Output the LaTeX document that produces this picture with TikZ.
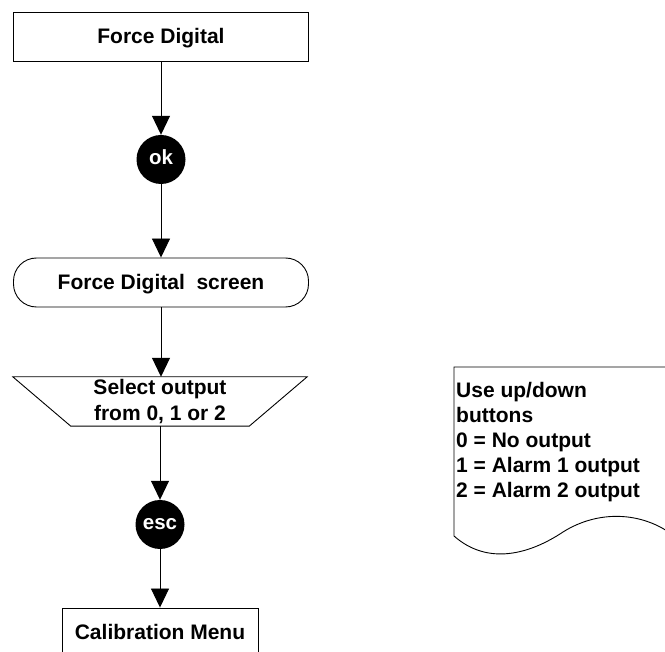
\documentclass[tikz,border=0pt]{standalone}
\usepackage{fontspec}
\setmainfont{Liberation Sans}
\usetikzlibrary{arrows.meta}
\begin{document}
\begin{tikzpicture}[x=1pt,y=-1pt,
  thinline/.style={line width=0.9pt},
  flow/.style={thinline, -{Triangle[width=18pt,length=19pt]}},
  boxshape/.style={draw, thinline, minimum height=49pt, inner sep=0pt, text height=15pt, text depth=0pt, font=\bfseries\fontsize{21}{24}\selectfont},
  keycirc/.style={circle, fill=black, minimum size=49pt, inner sep=0pt, text=white, text height=10.8pt, text depth=0pt, font=\bfseries\fontsize{20.5}{22}\selectfont},
  plaintext/.style={inner sep=0pt, font=\bfseries\fontsize{21}{25}\selectfont},
]
\useasboundingbox (0,0) rectangle (665,652);
\clip (0,0) rectangle (665,652);
% top box
\node[boxshape, minimum width=295pt] (fd) at (161,36.5) {Force Digital};
\node[keycirc] (ok) at (161,159.5) {ok};
\node[boxshape, minimum width=295pt, rounded corners=23pt] (scr) at (161,282.5) {Force Digital\ \ screen};
% trapezoid
\node[inner sep=0pt, minimum width=178pt, minimum height=49pt] (sel) at (160,401.5) {};
\draw[thinline] ([xshift=-58pt]sel.north west) -- ([xshift=58pt]sel.north east) -- (sel.south east) -- (sel.south west) -- cycle;
\node[plaintext, align=center, anchor=north, font=\bfseries\fontsize{21}{26}\selectfont] (seltext) at (160,379) {Select output\\from 0, 1 or 2};
\node[keycirc] (esc) at (160,524.5) {esc};
\node[boxshape, minimum width=196pt, minimum height=47pt] (cal) at (160,631.5) {Calibration Menu};
% connectors
\draw[flow] (fd) -- (ok);
\draw[flow] (ok) -- (scr);
\draw[flow] (scr.south) -- (scr.south |- sel.north);
\draw[flow] (sel.south) -- (esc);
\draw[flow] (esc) -- (cal);
% note (document shape)
\draw[thinline] (670,367) -- (454,367) -- (454,536)
  .. controls (488,566) and (530,554) .. (563,532)
  .. controls (598,510) and (640,512) .. (670,533);
\node[plaintext, align=left, anchor=north west] (note) at (456,382) {Use up/down\\buttons\\0 = No output\\1 = Alarm 1 output\\2 = Alarm 2 output};
\end{tikzpicture}
\end{document}
